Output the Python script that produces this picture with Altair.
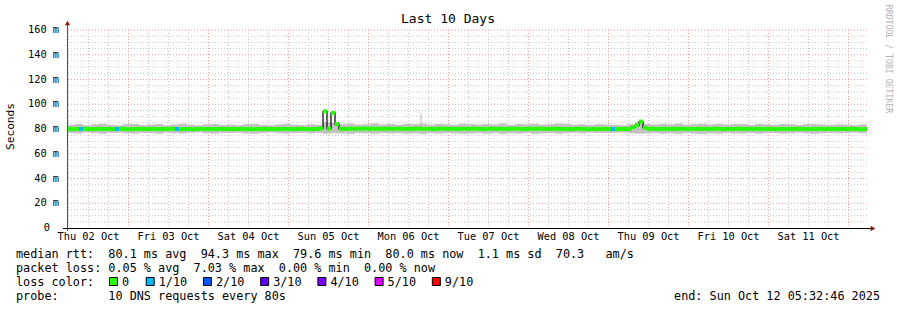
import altair as alt
import pandas as pd

# ---------------- data ----------------
TITLE = "Last 10 Days"
Y_TITLE = "Seconds"
WATERMARK = "RRDTOOL / TOBI OETIKER"
DAY_LABELS = ["Thu 02 Oct", "Fri 03 Oct", "Sat 04 Oct", "Sun 05 Oct", "Mon 06 Oct",
              "Tue 07 Oct", "Wed 08 Oct", "Thu 09 Oct", "Fri 10 Oct", "Sat 11 Oct"]
Y_TICKS = [0, 20, 40, 60, 80, 100, 120, 140, 160]

SPAN_H = 240.0            # 10 days, ending Sun Oct 12 05:32:46
FIRST_MIDNIGHT_H = 18.4539  # Fri 03 Oct 00:00 counted from the start time
STEP_H = 1.2              # median samples
SMOKE_STEP_H = 2.4        # smoke blocks

# median rtt (ms), one value per 1.2 h
median_ms = [
    80.0, 79.9, 80.1, 80.0, 80.2, 80.0, 79.9, 80.1, 80.0, 80.0, 80.1, 79.9, 80.0, 80.2, 80.0, 79.8, 80.0, 80.1, 80.0, 79.9,
    80.0, 80.1, 79.9, 80.0, 80.0, 80.1, 80.2, 80.0, 79.9, 80.0, 80.0, 79.8, 80.0, 80.1, 80.0, 80.0, 79.9, 80.0, 80.1, 80.0,
    79.9, 80.0, 80.0, 80.1, 79.9, 80.0, 79.8, 80.0, 80.0, 80.1, 80.0, 79.9, 80.0, 80.0, 80.1, 80.0, 79.9, 80.0, 80.2, 80.0,
    79.9, 80.0, 80.1, 80.4, 94.3, 80.2, 93.0, 84.0, 80.1, 80.0, 80.2, 80.1, 80.3, 80.2, 80.4, 80.1, 80.3, 80.2, 80.1, 80.3,
    80.2, 80.1, 80.3, 80.2, 80.0, 80.2, 80.1, 80.3, 80.2, 80.1, 80.2, 80.0, 80.1, 80.3, 80.2, 80.1, 80.2, 80.0, 80.1, 80.2,
    80.1, 80.3, 80.2, 80.1, 80.0, 80.2, 80.3, 80.1, 80.2, 80.0, 80.1, 80.2, 80.3, 80.1, 80.0, 80.2, 80.1, 80.3, 80.2, 80.1,
    80.0, 80.1, 80.2, 80.0, 79.9, 80.1, 80.0, 80.2, 80.1, 80.0, 79.9, 80.0, 80.1, 80.0, 80.2, 80.0, 79.9, 80.0, 80.1, 80.0,
    80.0, 81.5, 83.0, 86.0, 81.0, 80.1, 80.2, 80.0, 80.1, 80.2, 80.0, 80.1, 80.0, 80.2, 80.1, 80.0, 80.1, 80.2, 80.0, 80.1,
    80.0, 80.1, 80.2, 80.0, 79.9, 80.1, 80.0, 80.2, 80.1, 80.0, 80.1, 80.0, 80.2, 80.1, 80.0, 80.1, 80.0, 79.9, 80.1, 80.0,
    80.1, 80.0, 80.2, 80.1, 80.0, 79.9, 80.1, 80.0, 80.2, 80.0, 80.1, 80.0, 79.9, 80.1, 80.0, 80.0, 80.1, 80.0, 79.8, 80.0,
]
# packet loss (x/10) at the few samples where it is not 0
loss_events = {3: 1, 12: 1, 27: 1, 136: 1}

# smoke (spread of the 10 pings), one block per 2.4 h
smoke_hi = [
    83.5, 84.0, 83.0, 83.8, 84.2, 83.4, 83.0, 83.9, 84.1, 83.2, 83.6, 84.0, 83.1, 83.7, 84.3, 83.5, 83.0, 83.8, 84.0, 83.3,
    83.6, 83.1, 83.9, 84.2, 83.4, 83.0, 83.7, 84.1, 83.5, 83.2, 83.8, 83.4, 85.5, 85.0, 83.9, 84.3, 83.6, 83.8, 84.5, 83.7,
    84.0, 83.4, 84.2, 83.9, 84.4, 83.6, 84.1, 83.8, 83.5, 84.3, 83.9, 83.6, 84.0, 83.7, 84.5, 83.4, 84.1, 83.8, 84.2, 83.6,
    83.9, 84.4, 84.0, 83.5, 83.8, 83.3, 83.9, 83.6, 83.4, 83.1, 83.8, 85.5, 84.0, 83.6, 84.2, 83.8, 84.4, 83.5, 84.0, 84.3,
    83.7, 84.1, 83.6, 84.0, 83.9, 83.4, 84.2, 83.7, 83.5, 84.0, 83.8, 83.3, 83.9, 84.1, 83.6, 83.4, 83.8, 83.5, 83.2, 83.7,
]
smoke_lo = [
    76.8, 76.4, 77.1, 76.6, 76.2, 76.9, 77.0, 76.5, 76.3, 76.8, 76.7, 76.2, 77.0, 76.6, 76.4, 76.9, 77.1, 76.5, 76.3, 76.8,
    76.7, 77.0, 76.4, 76.2, 76.8, 77.1, 76.6, 76.3, 76.7, 76.9, 76.5, 76.8, 76.2, 76.6, 76.4, 76.1, 76.7, 76.5, 76.2, 76.8,
    76.4, 76.7, 76.2, 76.5, 76.0, 76.6, 76.3, 76.8, 76.5, 76.1, 76.4, 76.7, 76.2, 76.6, 76.0, 76.5, 76.3, 76.7, 76.1, 76.4,
    76.8, 76.2, 76.6, 76.9, 76.5, 77.0, 76.7, 76.8, 77.0, 77.1, 76.6, 76.2, 76.4, 76.7, 76.2, 76.5, 76.1, 76.6, 76.3, 76.0,
    76.5, 76.2, 76.7, 76.3, 76.4, 76.8, 76.2, 76.6, 76.7, 76.3, 76.5, 76.9, 76.4, 76.2, 76.6, 76.8, 76.5, 76.7, 77.0, 76.6,
]
# single slow ping outliers (sample index -> ms)
outliers = {88: 93.0}

LOSS_LEVELS = [0, 1, 2, 3, 4, 5, 9]
LOSS_LABELS = ["0", "1/10", "2/10", "3/10", "4/10", "5/10", "9/10"]
LOSS_COLORS = ["#26ff00", "#00b8ff", "#0059ff", "#5e00ff", "#7e00ff", "#dd00ff", "#ff0000"]

LEGEND_LINES = [
    "median rtt:  80.1 ms avg  94.3 ms max  79.6 ms min  80.0 ms now  1.1 ms sd  70.3   am/s",
    "packet loss: 0.05 % avg  7.03 % max  0.00 % min  0.00 % now",
    "loss color:",
    "probe:       10 DNS requests every 80s",
]
END_TEXT = "end: Sun Oct 12 05:32:46 2025"

# ---------------- build tables ----------------
N = len(median_ms)
med_df = pd.DataFrame({
    "h0": [i * STEP_H for i in range(N)],
    "h1": [(i + 1) * STEP_H for i in range(N)],
    "hm": [(i + 0.5) * STEP_H for i in range(N)],
    "med": median_ms,
    "loss": [loss_events.get(i, 0) for i in range(N)],
})
M = len(smoke_hi)
smoke_df = pd.DataFrame({
    "h0": [i * SMOKE_STEP_H for i in range(M)],
    "h1": [(i + 1) * SMOKE_STEP_H for i in range(M)],
    "lo": smoke_lo,
    "hi": smoke_hi,
})
out_df = pd.DataFrame({
    "h": [(k + 0.5) * STEP_H for k in outliers],
    "v": list(outliers.values()),
})

major_v = [FIRST_MIDNIGHT_H + 24 * k for k in range(10)]
minor_v = [FIRST_MIDNIGHT_H - 18 + 6 * k for k in range(41)]
minor_v = [h for h in minor_v if 0 <= h <= SPAN_H and all(abs(h - m) > 0.01 for m in major_v)]
major_h = [v for v in Y_TICKS if v > 0]
minor_h = [v for v in range(5, 161, 5) if v % 20 != 0]
noon = [FIRST_MIDNIGHT_H - 12 + 24 * k for k in range(10)]

FONT = "DejaVu Sans Mono"
W, H = 800, 198
xs = alt.Scale(domain=[0, SPAN_H], nice=False, zero=False)
ys = alt.Scale(domain=[0, 160], nice=False, zero=False)
X = lambda f: alt.X(f, type="quantitative", scale=xs, axis=None)
Y = lambda f: alt.Y(f, type="quantitative", scale=ys, axis=None)


def nb(s):
    return s.replace(" ", "\u00a0")


def label(text, x, y, size, align="left", angle=0, color="#000000", baseline="middle"):
    kw = dict(font=FONT, fontSize=size, align=align, baseline=baseline, color=color)
    if angle:
        kw["angle"] = angle
    return alt.Chart(pd.DataFrame({"t": [nb(text)]})).mark_text(**kw).encode(
        x=alt.value(x), y=alt.value(y), text="t:N")


layers = []
# grid
layers.append(alt.Chart(pd.DataFrame({"h": minor_v})).mark_rule(
    color="#c8c8c8", strokeDash=[1, 2], strokeWidth=1).encode(x=X("h")))
layers.append(alt.Chart(pd.DataFrame({"v": minor_h})).mark_rule(
    color="#c8c8c8", strokeDash=[1, 2], strokeWidth=1).encode(y=Y("v")))
layers.append(alt.Chart(pd.DataFrame({"h": major_v})).mark_rule(
    color="#e7a0a0", strokeDash=[1, 2], strokeWidth=1).encode(x=X("h")))
layers.append(alt.Chart(pd.DataFrame({"v": major_h})).mark_rule(
    color="#e7a0a0", strokeDash=[1, 2], strokeWidth=1).encode(y=Y("v")))

# smoke
layers.append(alt.Chart(smoke_df).mark_rect(color="#c2c2c2").encode(
    x=X("h0"), x2="h1", y=Y("lo"), y2="hi"))
layers.append(alt.Chart(out_df).transform_calculate(base="80").mark_rule(
    color="#b8b8b8", strokeWidth=1).encode(x=X("h"), y=Y("v"), y2="base:Q"))

# median: black step line with loss-coloured segments on top
layers.append(alt.Chart(med_df).mark_line(
    color="#000000", strokeWidth=1.2, interpolate="step").encode(x=X("hm"), y=Y("med")))
layers.append(alt.Chart(med_df).transform_calculate(
    a="datum.med - 1.6", b="datum.med + 1.6").mark_rect().encode(
    x=X("h0"), x2="h1", y=Y("a"), y2="b:Q",
    color=alt.Color("loss:O", scale=alt.Scale(domain=LOSS_LEVELS, range=LOSS_COLORS), legend=None)))

# axes
layers.append(alt.Chart(pd.DataFrame({"a": [0]})).mark_rule(color="#000000", strokeWidth=1).encode(
    x=alt.value(-4), x2=alt.value(804), y=alt.value(H + 0.5)))
layers.append(alt.Chart(pd.DataFrame({"a": [0]})).mark_rule(color="#505050", strokeWidth=1).encode(
    x=alt.value(0.5), y=alt.value(H + 3), y2=alt.value(-6)))
layers.append(alt.Chart(pd.DataFrame({"a": [0]})).mark_point(
    shape="triangle-right", filled=True, color="#8b1a1a", size=28, opacity=1).encode(
    x=alt.value(806), y=alt.value(H + 0.5)))
layers.append(alt.Chart(pd.DataFrame({"a": [0]})).mark_point(
    shape="triangle-up", filled=True, color="#8b1a1a", size=28, opacity=1).encode(
    x=alt.value(0.5), y=alt.value(-7)))

# tick labels
nz = [v for v in Y_TICKS if v]
layers.append(alt.Chart(pd.DataFrame({
    "v": nz, "t": [f"{v}\u00a0m" for v in nz]})).mark_text(
    font=FONT, fontSize=10.3, align="right", baseline="middle", color="#000000").encode(
    y=Y("v"), x=alt.value(-8), text="t:N"))
layers.append(alt.Chart(pd.DataFrame({"v": [0], "t": ["0"]})).mark_text(
    font=FONT, fontSize=10.3, align="right", baseline="middle", color="#000000").encode(
    y=Y("v"), x=alt.value(-17), text="t:N"))
layers.append(alt.Chart(pd.DataFrame({"h": noon, "t": [nb(s) for s in DAY_LABELS]})).mark_text(
    font=FONT, fontSize=10.3, align="center", baseline="middle", color="#000000").encode(
    x=X("h"), y=alt.value(207), text="t:N"))

# titles
layers.append(label(TITLE, 381, -11, 13, align="center"))
layers.append(label(Y_TITLE, -56, 96.5, 11.2, align="center", angle=270))
layers.append(label(WATERMARK, 820.5, 29, 8.2, align="center", angle=90, color="#b4b4b4"))

# legend text
rows_y = [224, 238, 251.5, 266]
for line, yy in zip(LEGEND_LINES, rows_y):
    layers.append(label(line, -51, yy, 11.8))
layers.append(label(END_TEXT, 813, rows_y[3], 11.8, align="right"))

# loss colour boxes
left = 109.0
for lab, col in zip(LOSS_LABELS, LOSS_COLORS):
    layers.append(alt.Chart(pd.DataFrame({"a": [0]})).mark_rect(
        fill=col, stroke="#000000", strokeWidth=1, opacity=1).encode(
        x=alt.value(left - 67 + 0.5), x2=alt.value(left - 67 + 8.5),
        y=alt.value(rows_y[2] - 4), y2=alt.value(rows_y[2] + 4)))
    layers.append(label(lab, left + 13 - 67, rows_y[2], 11.8))
    left += 29.9 + 6.83 * len(lab)

chart = alt.layer(*layers).properties(
    width=W, height=H,
    autosize=alt.AutoSizeParams(type="none"),
    padding={"left": 67, "top": 30, "right": 30, "bottom": 82},
    background="#ffffff",
).configure_view(strokeWidth=0)

chart.save("out.html", embed_options={"renderer": "svg", "actions": False})
